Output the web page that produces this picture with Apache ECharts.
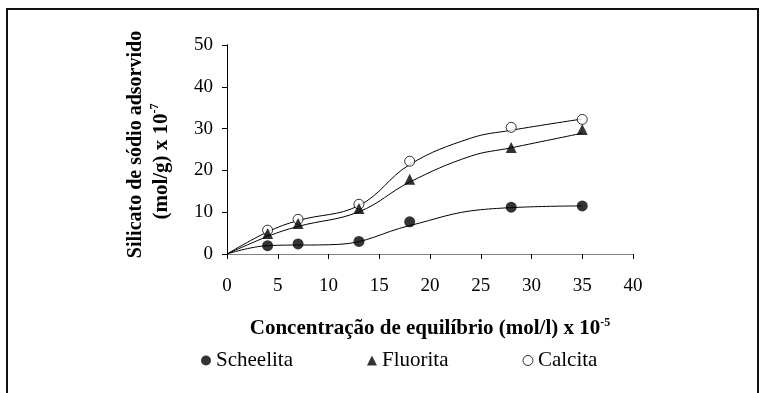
<!DOCTYPE html>
<html>
<head>
<meta charset="utf-8">
<script src="https://cdn.jsdelivr.net/npm/echarts@6/dist/echarts.min.js"></script>
<style>
  html, body { margin: 0; padding: 0; background: #fff; }
  #chart { width: 767px; height: 393px; }
</style>
</head>
<body>
<div id="chart"></div>
<script>
// Measured adsorption points: [concentration (x10^-5 mol/l), adsorbed (x10^-7 mol/g)]
const scheelitaPts = [[4, 2.0], [7, 2.4], [13, 3.0], [18, 7.7], [28, 11.2], [35, 11.5]];
const fluoritaPts  = [[4, 4.9], [7, 7.3], [13, 10.9], [18, 17.9], [28, 25.5], [35, 29.8]];
const calcitaPts   = [[4, 5.7], [7, 8.3], [13, 11.9], [18, 22.2], [28, 30.3], [35, 32.2]];

// Fitted trend curves (smooth isotherms starting at the origin)
const scheelitaFit = [[0, 0], [4, 2.0], [11, 2.3], [18, 6.8], [25, 10.6], [35, 11.5]];
const fluoritaFit  = [[0, 0], [4, 4.2], [7, 6.6], [13, 10.1], [18, 17.2], [24, 23.4], [28, 25.4], [35, 28.9]];
const calcitaFit   = [[0, 0], [4, 5.3], [7, 8.0], [13, 11.6], [18, 21.4], [24, 27.7], [28, 29.6], [35, 32.3]];

const legendNames = ['Scheelita', 'Fluorita', 'Calcita'];
const xTitle = 'Concentração de equilíbrio (mol/l) x 10';
const xTitleExp = '-5';
const yTitle1 = 'Silicato de sódio adsorvido';
const yTitle2 = '(mol/g) x 10';
const yTitleExp = '-7';

const SERIF = '"Liberation Serif", "Times New Roman", serif';

const chart = echarts.init(document.getElementById('chart'), null, { renderer: 'canvas' });

function fitSeries(data) {
  return {
    type: 'line',
    data: data,
    smooth: 0.4,
    showSymbol: false,
    silent: true,
    lineStyle: { color: '#000', width: 1 },
    z: 2
  };
}

const option = {
  backgroundColor: '#fff',
  animation: false,
  textStyle: { fontFamily: SERIF, color: '#000' },
  graphic: [{
    type: 'rect',
    shape: { x: 7, y: 9, width: 751, height: 420 },
    style: { fill: 'none', stroke: '#111', lineWidth: 2 },
    silent: true
  }],
  grid: { left: 227, top: 45, right: 134, bottom: 139 },
  legend: {
    left: 196,
    top: 345,
    itemGap: 74,
    itemWidth: 10,
    itemHeight: 10,
    textStyle: { fontFamily: SERIF, fontSize: 21, color: '#000' },
    data: [
      { name: legendNames[0], icon: 'circle', itemStyle: { color: '#000' } },
      { name: legendNames[1], icon: 'triangle', itemStyle: { color: '#000' } },
      { name: legendNames[2], icon: 'circle', itemStyle: { color: '#fff', borderColor: '#000', borderWidth: 1 } }
    ]
  },
  xAxis: [{
    type: 'value',
    min: 0, max: 40, interval: 5,
    axisLine: { show: true, lineStyle: { color: '#000', width: 1 } },
    axisTick: { show: true, inside: false, length: 5, lineStyle: { color: '#000' } },
    axisLabel: { margin: 23, fontFamily: SERIF, fontSize: 19, color: '#000' },
    splitLine: { show: false },
    name: '{a|' + xTitle + '}{s|' + xTitleExp + '}',
    nameLocation: 'middle',
    nameGap: 63,
    nameTextStyle: {
      rich: {
        a: { fontFamily: SERIF, fontSize: 21, fontWeight: 'bold', color: '#000', lineHeight: 24 },
        s: { fontFamily: SERIF, fontSize: 12, fontWeight: 'bold', color: '#000', verticalAlign: 'top', lineHeight: 14 }
      }
    }
  }, {
    type: 'value',
    position: 'top',
    min: 0, max: 40,
    axisLine: { show: true, lineStyle: { color: '#808080', width: 1 } },
    axisTick: { show: false },
    axisLabel: { show: false },
    splitLine: { show: false }
  }],
  yAxis: [{
    type: 'value',
    min: 0, max: 50, interval: 10,
    axisLine: { show: true, lineStyle: { color: '#000', width: 1 } },
    axisTick: { show: true, inside: false, length: 5, lineStyle: { color: '#000' } },
    axisLabel: { margin: 14, fontFamily: SERIF, fontSize: 19, color: '#000' },
    splitLine: { show: false },
    name: '{a|' + yTitle1 + '}\n{b|' + yTitle2 + '}{s|' + yTitleExp + '}',
    nameLocation: 'middle',
    nameRotate: 90,
    nameGap: 52,
    nameTextStyle: {
      padding: [0, 0, 0, 10],
      rich: {
        a: { fontFamily: SERIF, fontSize: 20, fontWeight: 'bold', color: '#000', lineHeight: 26 },
        b: { fontFamily: SERIF, fontSize: 21, fontWeight: 'bold', color: '#000', lineHeight: 26 },
        s: { fontFamily: SERIF, fontSize: 12, fontWeight: 'bold', color: '#000', verticalAlign: 'top', lineHeight: 16, padding: [0, 34, 0, 0] }
      }
    }
  }, {
    type: 'value',
    position: 'right',
    min: 0, max: 50,
    axisLine: { show: true, lineStyle: { color: '#000', width: 1 } },
    axisTick: { show: false },
    axisLabel: { show: false },
    splitLine: { show: false }
  }],
  series: [
    fitSeries(scheelitaFit),
    fitSeries(fluoritaFit),
    fitSeries(calcitaFit),
    {
      name: legendNames[2],
      type: 'scatter',
      data: calcitaPts,
      symbol: 'circle',
      symbolSize: 10,
      itemStyle: { color: '#fff', borderColor: '#000', borderWidth: 1 },
      z: 3
    },
    {
      name: legendNames[1],
      type: 'scatter',
      data: fluoritaPts,
      symbol: 'triangle',
      symbolSize: 11,
      itemStyle: { color: '#000' },
      z: 4
    },
    {
      name: legendNames[0],
      type: 'scatter',
      data: scheelitaPts,
      symbol: 'circle',
      symbolSize: 11,
      itemStyle: { color: '#000' },
      z: 4
    }
  ]
};

chart.setOption(option);
</script>
</body>
</html>
